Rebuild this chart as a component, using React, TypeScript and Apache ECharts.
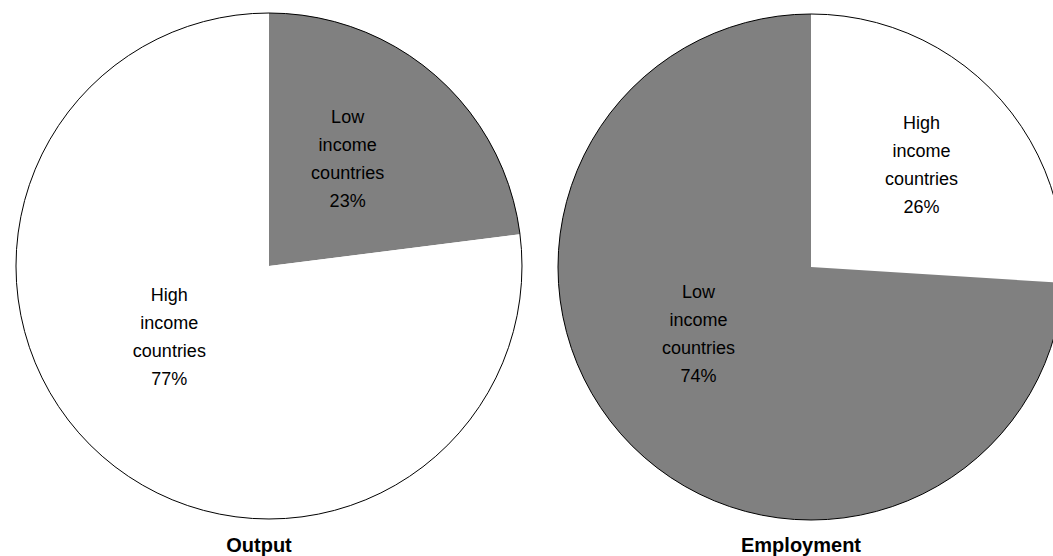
import React, { useEffect, useRef } from "react";
import * as echarts from "echarts";

// Shares (%) by income group
const outputNames = ["Low income countries", "High income countries"];
const outputValues = [23, 77];
const employmentNames = ["High income countries", "Low income countries"];
const employmentValues = [26, 74];
const panelTitles = ["Output", "Employment"];

const GRAY = "#808080";
const WHITE = "#ffffff";

// layout of the two pies
const PIE_CENTERS: [number, number][] = [
  [269, 266],
  [811, 267],
];
const PIE_RADIUS = 253;

// nudges so the labels sit where the text blocks are placed
const outputLabelNudge = [
  [-7, -10],
  [-14, -26],
];
const employmentLabelNudge = [
  [16, -13],
  [-18, -22],
];

const FONT = "'Liberation Sans', Arial, Helvetica, sans-serif";

function colorFor(name: string) {
  return name.startsWith("Low") ? GRAY : WHITE;
}

function pieSeries(
  names: string[],
  values: number[],
  center: [number, number],
  nudge: number[][]
) {
  return {
    type: "pie",
    center,
    radius: PIE_RADIUS,
    startAngle: 90,
    clockwise: true,
    silent: true,
    data: names.map((n, i) => ({
      name: n,
      value: values[i],
      itemStyle: { color: colorFor(n) },
    })),
    itemStyle: { borderWidth: 0 },
    label: {
      show: true,
      position: "inside",
      formatter: (p: any) => `${p.name.split(" ").join("\n")}\n${p.value}%`,
      color: "#000",
      fontFamily: FONT,
      fontSize: 18,
      lineHeight: 28,
      align: "center",
    },
    labelLine: { show: false },
    labelLayout: (p: any) => ({
      dx: nudge[p.dataIndex][0],
      dy: nudge[p.dataIndex][1],
    }),
  };
}

function outlineSeries(center: [number, number]) {
  return {
    type: "pie",
    center,
    radius: PIE_RADIUS,
    silent: true,
    data: [{ value: 1, name: "" }],
    itemStyle: { color: "transparent", borderColor: "#000", borderWidth: 1 },
    label: { show: false },
    labelLine: { show: false },
    z: 5,
  };
}

export default function App() {
  const ref = useRef<HTMLDivElement>(null);

  useEffect(() => {
    document.body.style.margin = "0";
    if (!ref.current) return;
    const chart = echarts.init(ref.current, undefined, { renderer: "svg" });
    chart.setOption({
      animation: false,
      backgroundColor: "#ffffff",
      series: [
        pieSeries(outputNames, outputValues, PIE_CENTERS[0], outputLabelNudge),
        outlineSeries(PIE_CENTERS[0]),
        pieSeries(
          employmentNames,
          employmentValues,
          PIE_CENTERS[1],
          employmentLabelNudge
        ),
        outlineSeries(PIE_CENTERS[1]),
      ],
      graphic: panelTitles.map((t, i) => ({
        type: "text",
        x: PIE_CENTERS[i][0] - 10,
        y: 545,
        style: {
          text: t,
          align: "center",
          verticalAlign: "middle",
          fill: "#000",
          font: `bold 20px ${FONT}`,
        },
      })),
    });
    return () => chart.dispose();
  }, []);

  return <div ref={ref} style={{ width: 1053, height: 556 }} />;
}
